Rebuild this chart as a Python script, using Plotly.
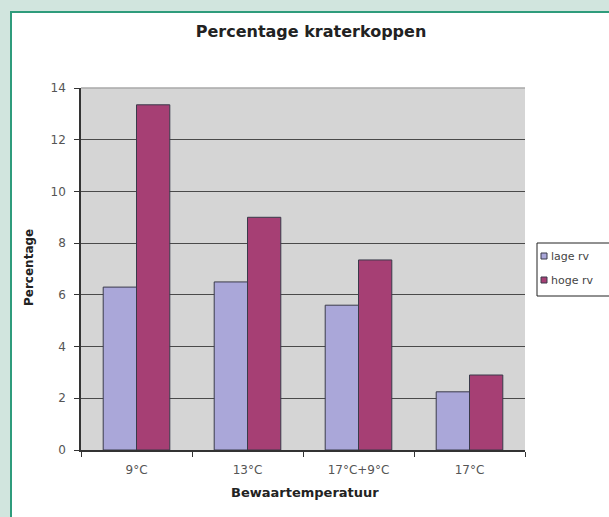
import plotly.graph_objects as go

# Storage temperature groups and the share of crater caps per humidity level
categories = ["9°C", "13°C", "17°C+9°C", "17°C"]
series_names = ["lage rv", "hoge rv"]
lage_rv = [6.3, 6.5, 5.6, 2.25]
hoge_rv = [13.35, 9.0, 7.35, 2.9]
y_ticks = [0, 2, 4, 6, 8, 10, 12, 14]

W, H = 609, 517
L, R, T, B = 81, 84, 88, 67
PW, PH = W - L - R, H - T - B

FONT = "DejaVu Sans"
LAGE_COL = "#aaa7d9"
HOGE_COL = "#a63f74"
EDGE = "#3a3a4a"


def px(x):
    return (x - L) / PW


def py(y):
    return (H - B - y) / PH


fig = go.Figure()
for name, vals, col in [(series_names[0], lage_rv, LAGE_COL),
                        (series_names[1], hoge_rv, HOGE_COL)]:
    fig.add_trace(go.Bar(x=categories, y=vals, name=name, marker_color=col,
                         marker_line=dict(color=EDGE, width=1), showlegend=False))

shapes = [
    # white chart panel with teal frame
    dict(type="rect", xref="paper", yref="paper", x0=px(11), x1=px(700),
         y0=py(600), y1=py(12), fillcolor="white",
         line=dict(color="#2f9c7c", width=2), layer="below"),
    # grey plot area
    dict(type="rect", xref="paper", yref="paper", x0=0, x1=1, y0=0, y1=1,
         fillcolor="#d5d5d5", line=dict(width=0), layer="below"),
    # lighter top border of the plot area
    dict(type="line", xref="paper", yref="paper", x0=0, x1=1, y0=1, y1=1,
         line=dict(color="#a8a8a8", width=1.5), layer="above"),
    # legend box
    dict(type="rect", xref="paper", yref="paper", x0=px(537), x1=px(660),
         y0=py(296), y1=py(243), fillcolor="white",
         line=dict(color="#222222", width=1), layer="above"),
]
annotations = []
for i, (name, col) in enumerate([(series_names[0], LAGE_COL), (series_names[1], HOGE_COL)]):
    yc = 256 + i * 24
    shapes.append(dict(type="rect", xref="paper", yref="paper",
                       x0=px(541), x1=px(547), y0=py(yc + 3), y1=py(yc - 3),
                       fillcolor=col, line=dict(color=EDGE, width=1), layer="above"))
    annotations.append(dict(text=name, xref="paper", yref="paper", x=px(549), y=py(yc),
                            xanchor="left", yanchor="middle", showarrow=False,
                            font=dict(family=FONT, size=11, color="#444444")))

annotations += [
    dict(text="<b>Percentage</b>", xref="paper", yref="paper", x=px(29), y=py(268),
         textangle=-90, showarrow=False, xanchor="center", yanchor="middle",
         font=dict(family=FONT, size=12, color="#222222")),
    dict(text="<b>Bewaartemperatuur</b>", xref="paper", yref="paper", x=px(305), y=py(492),
         showarrow=False, xanchor="center", yanchor="middle",
         font=dict(family=FONT, size=13, color="#222222")),
]

fig.update_layout(
    width=W, height=H,
    margin=dict(l=L, r=R, t=T, b=B, autoexpand=False),
    paper_bgcolor="#d1e5de",
    plot_bgcolor="rgba(0,0,0,0)",
    barmode="group", bargap=0.4, bargroupgap=0,
    title=dict(text="<b>Percentage kraterkoppen</b>", x=311 / W, xref="container",
               y=1 - 31 / H, yref="container", xanchor="center", yanchor="middle",
               font=dict(family=FONT, size=16, color="#222222")),
    shapes=shapes, annotations=annotations,
    showlegend=False,
)
fig.update_xaxes(showline=True, linecolor="#333333", linewidth=1.5,
                 ticks="outside", tickson="boundaries", ticklen=5, tickcolor="#333333",
                 tickfont=dict(family=FONT, size=12, color="#555555"),
                 ticklabelstandoff=8, showgrid=False)
fig.update_yaxes(range=[0, 14], tickvals=y_ticks, showline=True, linecolor="#333333",
                 linewidth=1.5, ticks="outside", ticklen=5, tickcolor="#333333",
                 tickfont=dict(family=FONT, size=12, color="#555555"),
                 ticklabelstandoff=6,
                 showgrid=True, gridcolor="#4a4a4a", gridwidth=1.3, zeroline=False)

fig.write_html("out.html")
